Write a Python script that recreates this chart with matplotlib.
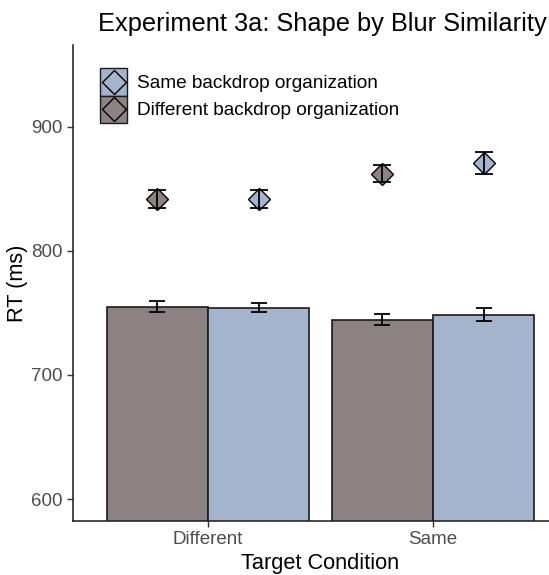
import matplotlib
matplotlib.use("Agg")
import matplotlib.pyplot as plt
from matplotlib.patches import Patch, Rectangle
from matplotlib.lines import Line2D
import numpy as np

plt.rcParams['font.family'] = ['Liberation Sans', 'DejaVu Sans']

categories = ["Different", "Same"]
groups = ["Different backdrop organization", "Same backdrop organization"]
bar_means = {"Different backdrop organization": [755.1, 744.6],
             "Same backdrop organization": [754.3, 748.4]}
bar_se = {"Different backdrop organization": [4.3, 4.2],
          "Same backdrop organization": [3.7, 5.2]}
pt_means = {"Different backdrop organization": [842.0, 862.2],
            "Same backdrop organization": [841.8, 871.0]}
pt_se = {"Different backdrop organization": [7.5, 6.9],
         "Same backdrop organization": [7.3, 8.7]}
colors = {"Different backdrop organization": "#8c8283",
          "Same backdrop organization": "#a3b4cc"}


class DiamondKey:
    def legend_artist(self, legend, orig_handle, fontsize, handlebox):
        x0, y0 = handlebox.xdescent, handlebox.ydescent
        w, h = handlebox.width, handlebox.height
        fc = orig_handle.get_facecolor()
        rect = Rectangle((-x0, -y0), w, h, facecolor=fc, edgecolor="#1a1a1a",
                         linewidth=1.0, transform=handlebox.get_transform())
        mk = Line2D([w / 2 - x0], [h / 2 - y0], linestyle="none", marker="D",
                    markersize=12.5, markerfacecolor=fc, markeredgecolor="black",
                    markeredgewidth=1.0, transform=handlebox.get_transform())
        handlebox.add_artist(rect)
        handlebox.add_artist(mk)
        return rect


W, H = 549, 575
fig = plt.figure(figsize=(W / 100, H / 100), dpi=100)
ax = fig.add_axes([73 / W, (H - 521) / H, (568 - 73) / W, (521 - 45) / H])

x = np.arange(1, len(categories) + 1)
width = 0.45
offsets = {"Different backdrop organization": -width / 2,
           "Same backdrop organization": width / 2}

for g in groups:
    xs = x + offsets[g]
    ax.bar(xs, bar_means[g], width=width, color=colors[g], edgecolor="#1a1a1a",
           linewidth=1.2, zorder=2)
    ax.errorbar(xs, bar_means[g], yerr=bar_se[g], fmt="none", ecolor="black",
                elinewidth=1.3, capsize=6, capthick=1.3, zorder=3)
    ax.plot(xs, pt_means[g], linestyle="none", marker="D", markersize=11.5,
            markerfacecolor=colors[g], markeredgecolor="black",
            markeredgewidth=1.0, zorder=4)
    ax.errorbar(xs, pt_means[g], yerr=pt_se[g], fmt="none", ecolor="black",
                elinewidth=1.3, capsize=6.5, capthick=1.3, zorder=5)

ax.set_xlim(0.4, 2.6)
ax.set_ylim(582.3, 966)
ax.set_xticks(x)
ax.set_xticklabels(categories)
ax.set_yticks([600, 700, 800, 900])
ax.tick_params(axis="both", labelsize=13.5, labelcolor="#4d4d4d", length=4,
               width=1, color="#333333")
for s in ["top", "right"]:
    ax.spines[s].set_visible(False)
for s in ["left", "bottom"]:
    ax.spines[s].set_linewidth(1.1)
    ax.spines[s].set_color("#1a1a1a")

ax.set_xlabel("Target Condition", fontsize=15.7, labelpad=3)
ax.set_ylabel("RT (ms)", fontsize=15.7, labelpad=2)
fig.text(322 / W, 1 - 31 / H, "Experiment 3a: Shape by Blur Similarity",
         ha="center", va="baseline", fontsize=18.3)

legend_order = ["Same backdrop organization", "Different backdrop organization"]
handles = [Patch(facecolor=colors[g]) for g in legend_order]
leg = ax.legend(handles, legend_order, loc="upper left",
                bbox_to_anchor=((100 - 73) / 495, (521 - 68) / 476),
                handler_map={Patch: DiamondKey()},
                frameon=False, fontsize=13.7, handlelength=1.43, handleheight=1.85,
                labelspacing=0.0, handletextpad=0.5, borderaxespad=0,
                borderpad=0)

fig.savefig("out.png", dpi=100)
